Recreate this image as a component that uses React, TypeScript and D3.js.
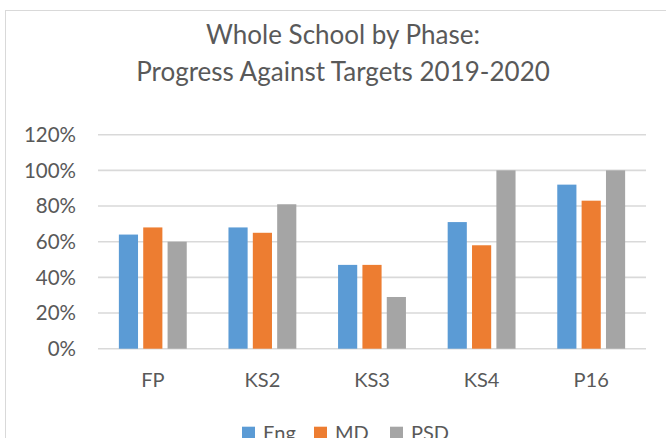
import React from "react"
import * as d3 from "d3"

const categories = ["FP", "KS2", "KS3", "KS4", "P16"]
const seriesNames = ["Eng", "MD", "PSD"]
const engValues = [0.64, 0.68, 0.47, 0.71, 0.92]
const mdValues = [0.68, 0.65, 0.47, 0.58, 0.83]
const psdValues = [0.60, 0.81, 0.29, 1.0, 1.0]
const yTicks = [0, 0.2, 0.4, 0.6, 0.8, 1.0, 1.2]
const titleLines = ["Whole School by Phase:", "Progress Against Targets 2019-2020"]

const colors = ["#5B9BD5", "#ED7D31", "#A5A5A5"]
const font = "Lato, 'Open Sans', sans-serif"
const textColor = "#595959"

export default function App() {
    const width = 666
    const height = 438
    const [left, right, top, bottom] = [98, 646, 134.7, 348.7]

    const series = [engValues, mdValues, psdValues]

    const x = d3.scaleBand<string>()
        .domain(categories)
        .range([left, right])
        .paddingInner(1 / 3)
        .paddingOuter(1 / 6)
    const xSeries = d3.scaleBand<string>()
        .domain(seriesNames)
        .range([0, x.bandwidth()])
    const y = d3.scaleLinear().domain([0, 1.2]).range([bottom, top])
    const inset = 2.6
    const fmt = d3.format(".0%")

    // legend layout
    const legendX = [242, 314, 390]

    return (
        <svg width={width} height={height} style={{ position: "absolute", left: 0, top: 0, background: "#fff" }}>
            <rect x={5.5} y={10.5} width={680} height={460} fill="#fff" stroke="#D9D9D9" strokeWidth={1} />

            {titleLines.map((t, i) => (
                <text key={t} x={343} y={44 + i * 37} textAnchor="middle" fontFamily={font}
                    fontSize={26} fill={textColor}>{t}</text>
            ))}

            {yTicks.map((t) => (
                <g key={t}>
                    <line x1={left} x2={right} y1={y(t)} y2={y(t)} stroke="#D9D9D9" strokeWidth={1.6} />
                    <text x={76} y={y(t)} dy="0.36em" textAnchor="end" fontFamily={font}
                        fontSize={20.5} fill={textColor}>{fmt(t)}</text>
                </g>
            ))}

            {categories.map((c, ci) => (
                <g key={c}>
                    {series.map((vals, si) => {
                        const bx = (x(c) as number) + (xSeries(seriesNames[si]) as number)
                        return (
                            <rect key={si} x={bx + inset} width={xSeries.bandwidth() - inset * 2}
                                y={y(vals[ci])} height={y(0) - y(vals[ci])} fill={colors[si]} />
                        )
                    })}
                    <text x={(x(c) as number) + x.bandwidth() / 2} y={387} textAnchor="middle"
                        fontFamily={font} fontSize={20} fill={textColor}>{c}</text>
                </g>
            ))}

            {seriesNames.map((s, i) => (
                <g key={s}>
                    <rect x={legendX[i]} y={426.7} width={13} height={13} fill={colors[i]} />
                    <text x={legendX[i] + 21} y={440} fontFamily={font} fontSize={20} fill={textColor}>{s}</text>
                </g>
            ))}
        </svg>
    )
}
